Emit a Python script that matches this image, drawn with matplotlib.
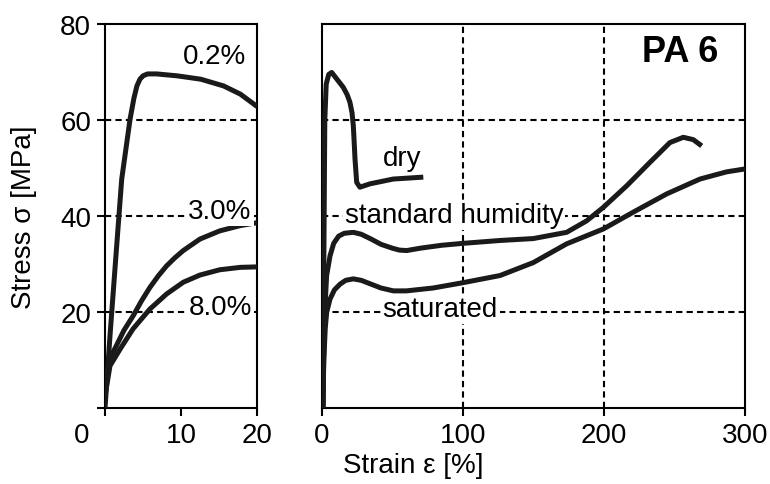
import matplotlib
matplotlib.use('Agg')
import matplotlib.pyplot as plt
from matplotlib.transforms import ScaledTranslation

plt.rcParams['font.family'] = ['Liberation Sans', 'DejaVu Sans']

# left panel: stress vs strain for 3 moisture contents (strain 0..20 %)
x_02 = [0, 0.7, 1.5, 2.2, 3.3, 3.8, 4.2, 4.6, 5.0, 5.6, 6.8, 9.5, 12.6, 15.6, 17.8, 19.6, 20]
y_02 = [0, 16, 33, 47.7, 60.2, 64.5, 67.1, 68.5, 69.2, 69.6, 69.6, 69.2, 68.5, 67.1, 65.4, 63.3, 62.8]
x_30 = [0, 0.2, 0.7, 1.5, 2.5, 3.7, 4.8, 5.9, 7.0, 8.1, 9.2, 10.3, 12.5, 15.1, 17.8, 20]
y_30 = [2.5, 7.4, 10.5, 13.0, 16.2, 19.2, 22.3, 25.1, 27.5, 29.6, 31.3, 32.8, 35.2, 36.9, 38.0, 38.6]
x_80 = [0, 0.66, 2.0, 3.7, 5.9, 8.1, 10.3, 12.5, 15.1, 17.8, 20]
y_80 = [2.5, 8.8, 12.3, 16.5, 20.6, 23.75, 26.2, 27.7, 28.8, 29.3, 29.4]

# right panel: PA 6 dry / standard humidity / saturated (strain 0..300 %)
x_dry = [1.0, 1.5, 2.2, 3.2, 5.0, 7.1, 10.0, 15.3, 18.0, 20.0, 21.5, 22.4, 23.0, 23.6, 24.8, 27.1, 34.2, 50.7, 72]
y_dry = [0, 30, 60, 67.5, 69.5, 69.9, 68.8, 66.8, 65.3, 63.7, 61.5, 58.8, 55.5, 51.9, 47.0, 46.0, 46.7, 47.7, 48.1]
x_std = [0.8, 1.5, 2.5, 3.5, 5.9, 8.5, 12, 16, 22.4, 28, 35, 42, 50, 55, 60.2, 70, 85, 100, 126.4, 150,
         173.6, 187.8, 199.6, 216.2, 232.7, 246.8, 256.3, 263.4, 269.3]
y_std = [0, 12, 22, 27.6, 31.7, 34.3, 35.8, 36.4, 36.6, 36.2, 35.2, 34.1, 33.3, 32.9, 32.8, 33.3, 33.9,
         34.3, 34.9, 35.3, 36.6, 39.0, 41.8, 46.3, 51.2, 55.3, 56.4, 55.9, 54.6]
x_sat = [0.8, 1.5, 2.5, 3.5, 5.9, 9.0, 13, 17, 22.4, 28, 35, 42, 50.8, 60, 79, 100, 126.4, 150, 173.6,
         199.6, 220.8, 244.5, 268.1, 287, 300]
y_sat = [0, 10, 16.5, 19.9, 22.7, 24.6, 25.8, 26.6, 26.9, 26.6, 25.8, 25.0, 24.4, 24.4, 25.0, 26.1, 27.6,
         30.3, 34.2, 37.3, 40.8, 44.6, 47.7, 49.2, 49.8]

fig = plt.figure(figsize=(7.7, 4.85), dpi=100)
ax1 = fig.add_axes([105/770, 76/485, 152/770, 384/485])
ax2 = fig.add_axes([321.7/770, 76/485, 423.3/770, 384/485])

grid_kw = dict(color='black', lw=1.5, linestyle=(0, (3.0, 2.0)), zorder=1)
line_kw = dict(color='#1a1a1a', lw=3.6, solid_capstyle='butt', solid_joinstyle='round', zorder=3)
lab_kw = dict(fontsize=20, zorder=4,
              bbox=dict(facecolor='white', edgecolor='none', pad=1.5))

for ax in (ax1, ax2):
    ax.set_ylim(0, 80)
    for s in ax.spines.values():
        s.set_linewidth(1.5)
    ax.tick_params(direction='out', width=1.5, length=6, labelsize=20, pad=4)
    for yy in (20, 40, 60):
        ax.axhline(yy, **grid_kw)

ax1.set_xlim(0, 20)
ax1.set_xticks([0, 10, 20])
ax1.set_yticks([0, 20, 40, 60, 80])
ax1.set_yticklabels(['', '20', '40', '60', '80'])
# the "0" strain label sits left of its tick in the original
lbl0 = ax1.get_xticklabels()[0]
lbl0.set_transform(lbl0.get_transform() + ScaledTranslation(-23/100, 0, fig.dpi_scale_trans))
ax1.plot(x_02, y_02, **line_kw)
ax1.plot(x_30, y_30, **line_kw)
ax1.plot(x_80, y_80, **line_kw)
ax1.text(18.6, 73.3, '0.2%', ha='right', va='center', **lab_kw)
ax1.text(19.3, 41.0, '3.0%', ha='right', va='center', **lab_kw)
ax1.text(19.3, 21.0, '8.0%', ha='right', va='center', **lab_kw)
ax1.set_ylabel('Stress σ [MPa]', fontsize=20)
ax1.yaxis.set_label_coords(-0.45, 0.5)

ax2.set_xlim(0, 300)
ax2.set_xticks([0, 100, 200, 300])
ax2.set_yticks([])
for xx in (100, 200):
    ax2.axvline(xx, **grid_kw)
ax2.plot(x_dry, y_dry, **line_kw)
ax2.plot(x_std, y_std, **line_kw)
ax2.plot(x_sat, y_sat, **line_kw)
ax2.text(56.7, 52.0, 'dry', ha='center', va='center', **lab_kw)
ax2.text(93.8, 40.3, 'standard humidity', ha='center', va='center', **lab_kw)
ax2.text(84.0, 20.6, 'saturated', ha='center', va='center', **lab_kw)
ax2.text(281, 74.3, 'PA 6', ha='right', va='center', fontsize=26, fontweight='bold', zorder=4)

fig.text(413/770, 19/485, 'Strain ε [%]', fontsize=20, ha='center', va='center')

fig.savefig('out.png', dpi=100)
